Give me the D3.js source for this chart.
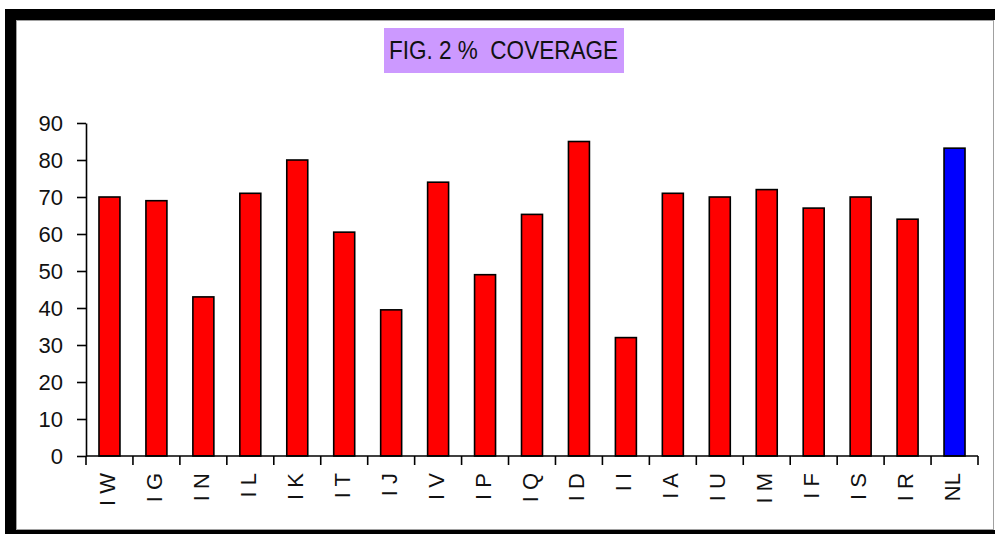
<!DOCTYPE html>
<html>
<head>
<meta charset="utf-8">
<script src="https://cdn.jsdelivr.net/npm/d3@7"></script>
<style>
  html, body { margin: 0; padding: 0; background: #fff; }
  svg { display: block; }
  text { font-family: Arial, "Liberation Sans", sans-serif; }
</style>
</head>
<body>
<svg id="chart" width="995" height="534"></svg>
<script>
const categories = ["I W","I G","I N","I L","I K","I T","I J","I V","I P","I Q","I D","I I","I A","I U","I M","I F","I S","I R","NL"];
const coverage = [70, 69, 43, 71, 80, 60.5, 39.5, 74, 49, 65.3, 85, 32, 71, 70, 72, 67, 70, 64, 83.2];
const highlighted = ["NL"];
const yTicks = [0, 10, 20, 30, 40, 50, 60, 70, 80, 90];
const titleText = "FIG. 2 %  COVERAGE";

const svg = d3.select("#chart");

// frame
svg.append("rect").attr("x", 5).attr("y", 9).attr("width", 990).attr("height", 525).attr("fill", "#000");
svg.append("rect").attr("x", 16).attr("y", 20).attr("width", 979).attr("height", 510).attr("fill", "#fff");
svg.append("rect").attr("x", 16.5).attr("y", 20.5).attr("width", 977).attr("height", 509)
  .attr("fill", "none").attr("stroke", "#a0a0a0").attr("stroke-width", 1);

// title
svg.append("rect").attr("x", 384).attr("y", 28).attr("width", 240).attr("height", 45).attr("fill", "#cc99ff");
svg.append("text").attr("x", 389).attr("y", 59)
  .attr("font-size", 26).attr("fill", "#111")
  .attr("xml:space", "preserve").style("white-space", "pre")
  .attr("textLength", 229).attr("lengthAdjust", "spacingAndGlyphs")
  .text(titleText);

const x = d3.scaleBand().domain(categories).range([86, 978]).paddingInner(0.553).paddingOuter(0.2765);
const xb = d3.scaleBand().domain(categories).range([86, 978]).padding(0);
const y = d3.scaleLinear().domain([0, 90]).range([456, 123]);

// bars
svg.append("g").selectAll("rect").data(categories).join("rect")
  .attr("x", d => x(d))
  .attr("y", (d, i) => y(coverage[i]))
  .attr("width", x.bandwidth())
  .attr("height", (d, i) => y(0) - y(coverage[i]))
  .attr("fill", d => highlighted.includes(d) ? "#0000ff" : "#ff0000")
  .attr("stroke", "#000").attr("stroke-width", 1.6);

// y axis
const yAxis = d3.axisLeft(y).tickValues(yTicks).tickSize(9).tickPadding(14).tickSizeOuter(0);
const gy = svg.append("g").attr("transform", "translate(86,0)").call(yAxis);
gy.select(".domain").attr("stroke", "#000").attr("stroke-width", 1.6);
gy.selectAll(".tick line").attr("stroke", "#000").attr("stroke-width", 1.6);
gy.selectAll(".tick text").attr("font-size", 22).attr("fill", "#111").attr("font-family", "Arial, 'Liberation Sans', sans-serif").attr("dy", "0.36em");

// x axis line with ticks at band boundaries
const boundaries = categories.map(c => xb(c)).concat([978]);
const gx = svg.append("g");
gx.append("line").attr("x1", 86).attr("x2", 978).attr("y1", 456).attr("y2", 456)
  .attr("stroke", "#000").attr("stroke-width", 1.6);
gx.selectAll("line.t").data(boundaries).join("line").attr("class", "t")
  .attr("x1", d => d).attr("x2", d => d).attr("y1", 456).attr("y2", 465)
  .attr("stroke", "#000").attr("stroke-width", 1.6);

// x labels
gx.selectAll("text").data(categories).join("text")
  .attr("transform", d => `translate(${xb(d) + xb.bandwidth() / 2 + 5.5},473) rotate(-90)`)
  .attr("text-anchor", "end")
  .attr("font-size", 22).attr("fill", "#111")
  .text(d => d);
</script>
</body>
</html>
